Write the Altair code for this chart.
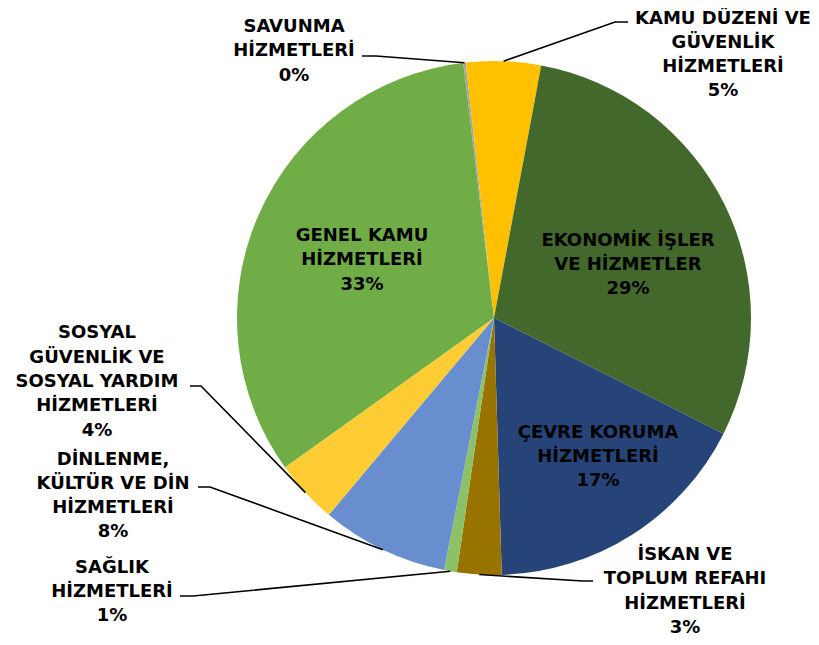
import math
import altair as alt
import pandas as pd

# ---- data ----
categories = [
    "GENEL KAMU HİZMETLERİ",
    "SAVUNMA HİZMETLERİ",
    "KAMU DÜZENİ VE GÜVENLİK HİZMETLERİ",
    "EKONOMİK İŞLER VE HİZMETLER",
    "ÇEVRE KORUMA HİZMETLERİ",
    "İSKAN VE TOPLUM REFAHI HİZMETLERİ",
    "SAĞLIK HİZMETLERİ",
    "DİNLENME, KÜLTÜR VE DİN HİZMETLERİ",
    "SOSYAL GÜVENLİK VE SOSYAL YARDIM HİZMETLERİ",
]
shares = [33.0, 0.15, 4.7, 29.5, 17.1, 2.8, 0.8, 8.0, 4.0]
pct_labels = ["33%", "0%", "5%", "29%", "17%", "3%", "1%", "8%", "4%"]
label_lines = [
    ["GENEL KAMU", "HİZMETLERİ"],
    ["SAVUNMA", "HİZMETLERİ"],
    ["KAMU DÜZENİ VE", "GÜVENLİK", "HİZMETLERİ"],
    ["EKONOMİK İŞLER", "VE HİZMETLER"],
    ["ÇEVRE KORUMA", "HİZMETLERİ"],
    ["İSKAN VE", "TOPLUM REFAHI", "HİZMETLERİ"],
    ["SAĞLIK", "HİZMETLERİ"],
    ["DİNLENME,", "KÜLTÜR VE DİN", "HİZMETLERİ"],
    ["SOSYAL", "GÜVENLİK VE", "SOSYAL YARDIM", "HİZMETLERİ"],
]

# ---- layout / style ----
colors = ["#70AD47", "#A5A5A5", "#FFC000", "#43682B", "#264478",
          "#997300", "#8CC168", "#698ED0", "#FFCD33"]
PAD = 8
OFF = 8 + PAD                       # page margin + chart padding
W, H = 819 - 2 * OFF, 645 - 2 * OFF
# positions below are page pixels; converted to view coords via OFF
CX, CY, R = 494 - OFF, 318 - OFF, 257
START_DEG = 234.4                   # angle where the first slice starts
FONT = "DejaVu Sans"
FS = 18
LH = 24.3

label_pos = {
    0: (362, 260.5),
    1: (294, 51.5),
    2: (723, 55),
    3: (628, 265),
    4: (598, 457),
    5: (685, 591.5),
    6: (112, 592),
    7: (113, 496),
    8: (97, 382),
}
leaders = {
    1: [(362, 56), (376, 56)],
    2: [(628, 22), (615, 22)],
    5: [(593, 581), (583, 581)],
    6: [(180, 596), (193, 596)],
    7: [(198, 487), (210, 487)],
    8: [(190, 386), (201, 386)],
}

total = sum(shares)
df = pd.DataFrame({"cat": categories, "share": shares,
                   "idx": list(range(len(categories))), "color": colors})

start = math.radians(START_DEG)
pie = alt.Chart(df).mark_arc(outerRadius=R, stroke=None).encode(
    theta=alt.Theta("share:Q", stack=True,
                    scale=alt.Scale(range=[start, start + 2 * math.pi])),
    order=alt.Order("idx:Q"),
    color=alt.Color("color:N", scale=None),
    x=alt.value(CX), y=alt.value(CY),
)

# text labels (y given for the first line so the block is centred)
txt_rows = []
for i, c in enumerate(categories):
    x, y = label_pos[i]
    lines_i = label_lines[i] + [pct_labels[i]]
    y0 = y - (len(lines_i) - 1) / 2 * LH
    txt_rows.append({"x": x - OFF, "y": y0 - OFF, "t": "\n".join(lines_i)})
tdf = pd.DataFrame(txt_rows)
texts = alt.Chart(tdf).mark_text(
    font=FONT, fontSize=FS, fontWeight="bold", color="#000000",
    lineBreak="\n", lineHeight=LH, align="center", baseline="middle"
).encode(x=alt.X("x:Q", scale=None), y=alt.Y("y:Q", scale=None), text="t:N")

# leader lines: end at the pie edge at each slice's mid-angle
cum = 0.0
mids = []
for s in shares:
    mids.append(START_DEG + (cum + s / 2) / total * 360.0)
    cum += s
lrows = []
for i, pts in leaders.items():
    a = math.radians(mids[i])
    ex, ey = CX + R * math.sin(a), CY - R * math.cos(a)
    allpts = [(px - OFF, py - OFF) for px, py in pts] + [(ex, ey)]
    for k, (px, py) in enumerate(allpts):
        lrows.append({"g": i, "k": k, "x": px, "y": py})
ldf = pd.DataFrame(lrows)
lines = alt.Chart(ldf).mark_line(color="#000000", strokeWidth=1.6).encode(
    x=alt.X("x:Q", scale=None), y=alt.Y("y:Q", scale=None),
    detail="g:N", order="k:Q")

chart = alt.layer(pie, lines, texts).properties(
    width=W, height=H, autosize=alt.AutoSizeParams(type="none"), padding=PAD
).configure_view(stroke=None)

chart.save("out.html", embed_options={"renderer": "svg", "actions": False})
